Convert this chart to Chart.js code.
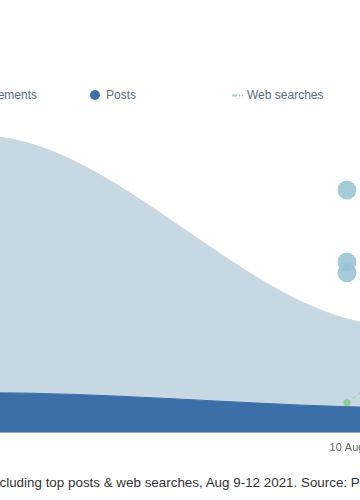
<!DOCTYPE html>
<html>
<head>
<meta charset="utf-8">
<script src="https://cdn.jsdelivr.net/npm/chart.js@4.4.1/dist/chart.umd.min.js"></script>
<style>
  html, body { margin: 0; padding: 0; background: #fff; }
  body { width: 360px; height: 500px; overflow: hidden; position: relative; font-family: "Liberation Sans", Arial, sans-serif; }
  #chart { position: absolute; left: 0; top: 0; }
  .item { position: absolute; top: 87px; width: 143px; height: 16px; line-height: 16px; font-size: 12px; color: #5a6e80; white-space: nowrap; }
  .dot { display: inline-block; width: 10px; height: 10px; border-radius: 50%; margin: 0 6px 0 1px; vertical-align: -1px; }
  .dash { display: inline-block; margin-right: 4px; vertical-align: 2px; }
  #note { position: absolute; top: 475px; left: 0; white-space: nowrap; font-size: 13.4px; line-height: 16px; color: #333; }
</style>
</head>
<body>
<canvas id="chart" width="1517" height="331"></canvas>
<div id="legend"></div>
<div id="note"><span id="notePre">Engagements, in</span>cluding top posts &amp; web searches, Aug 9-12 2021. Source: Public data</div>
<script>
// days on the x axis (August 2021)
const days = [8, 9, 10, 11, 12];
const engagements = [60, 99, 38, 27, 28];
const posts = [8, 13.4, 8.7, 6, 4];
const webSearches = [null, null, 10, 100, 50];
// single top posts plotted as bubbles
const topPostDays = [10, 10, 10];
const topPostValues = [81, 57, 53.4];
const seriesNames = ['Engagements', 'Posts', 'Web searches', 'Top posts'];
const seriesColors = ['#c8d8e3', '#3c6ea8', '#8fd3a5', '#a6cbd8'];

function toPoints(xs, ys) {
    return xs.map((x, i) => ({ x: x, y: ys[i] })).filter(p => p.y !== null);
}

const chart = new Chart(document.getElementById('chart').getContext('2d'), {
    type: 'line',
    data: {
        datasets: [
            {
                label: seriesNames[2],
                data: toPoints(days, webSearches),
                borderColor: 'rgba(143, 211, 165, 0.9)',
                backgroundColor: '#86cf9c',
                borderWidth: 1,
                borderDash: [4, 3],
                pointRadius: 3.5,
                pointBorderWidth: 0,
                cubicInterpolationMode: 'monotone',
                fill: false,
                order: 0
            },
            {
                type: 'scatter',
                label: seriesNames[3],
                data: toPoints(topPostDays, topPostValues),
                backgroundColor: 'rgba(150, 194, 209, 0.85)',
                pointRadius: 9.5,
                pointBorderWidth: 0,
                order: 1
            },
            {
                label: seriesNames[1],
                data: toPoints(days, posts),
                borderColor: seriesColors[1],
                backgroundColor: seriesColors[1],
                borderWidth: 1,
                pointRadius: 0,
                cubicInterpolationMode: 'monotone',
                fill: 'origin',
                order: 2
            },
            {
                label: seriesNames[0],
                data: toPoints(days, engagements),
                borderColor: seriesColors[0],
                backgroundColor: seriesColors[0],
                borderWidth: 1,
                pointRadius: 0,
                cubicInterpolationMode: 'monotone',
                fill: 'origin',
                order: 3
            }
        ]
    },
    options: {
        responsive: false,
        animation: false,
        layout: { padding: 0, autoPadding: false },
        plugins: {
            legend: { display: false },
            tooltip: { enabled: false }
        },
        scales: {
            x: {
                type: 'linear',
                min: days[0],
                max: days[days.length - 1],
                grid: { display: false, drawTicks: false },
                border: { display: true, color: '#ccd6eb', width: 1 },
                ticks: {
                    stepSize: 1,
                    padding: 9,
                    color: '#666',
                    font: { family: 'Liberation Sans', size: 11 },
                    callback: v => v + ' Aug'
                }
            },
            y: {
                display: false,
                min: 0,
                max: 100
            }
        }
    }
});

// shift the canvas so that 10 Aug and the baseline land where the reference has them
const canvas = document.getElementById('chart');
canvas.style.left = (347 - chart.scales.x.getPixelForValue(10)) + 'px';
canvas.style.top = (433 - chart.scales.y.getPixelForValue(0)) + 'px';

// legend in fixed-width columns
const legend = document.getElementById('legend');
seriesNames.forEach((name, i) => {
    const item = document.createElement('div');
    item.className = 'item';
    item.style.left = (-54 + 143 * i) + 'px';
    let sym;
    if (i === 2) {
        sym = '<svg class="dash" width="11" height="3"><line x1="0" y1="1.5" x2="11" y2="1.5" stroke="#a3d8b6" stroke-width="2" stroke-dasharray="5,2,1,2"/></svg>';
    } else {
        sym = '<span class="dot" style="background:' + seriesColors[i] + '"></span>';
    }
    item.innerHTML = sym + name;
    legend.appendChild(item);
});

// footnote starts cut off at the left edge
const note = document.getElementById('note');
note.style.left = (-document.getElementById('notePre').offsetWidth) + 'px';
</script>
</body>
</html>
